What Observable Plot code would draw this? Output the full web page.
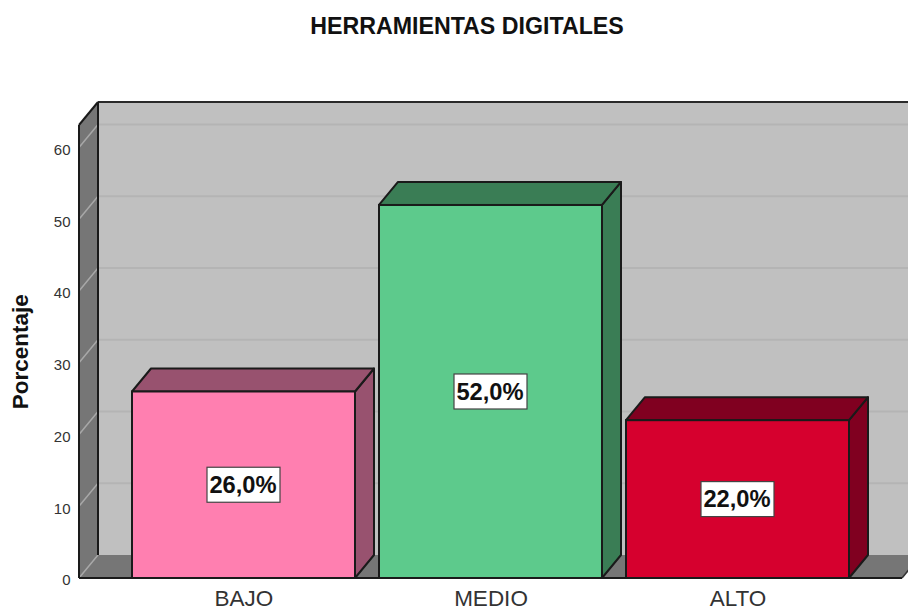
<!DOCTYPE html>
<html>
<head>
<meta charset="utf-8">
<script src="https://cdn.jsdelivr.net/npm/d3@7"></script>
<script src="https://cdn.jsdelivr.net/npm/@observablehq/plot@0.6"></script>
<style>
html,body{margin:0;padding:0;background:#fff;width:908px;height:610px;overflow:hidden}
#title{box-sizing:border-box;width:908px;height:60px;padding-left:26px;text-align:center;font:bold 23.2px/52px "Liberation Sans",sans-serif;color:#111}
svg{display:block}
</style>
</head>
<body>
<div id="title">HERRAMIENTAS DIGITALES</div>
<div id="chart"></div>
<script>
const categories = ["BAJO", "MEDIO", "ALTO"];
const percentages = [26, 52, 22];
const labels = ["26,0%", "52,0%", "22,0%"];
const frontColors = ["#ff7fb0", "#5dca8c", "#d6002e"];
const sideColors = ["#98526f", "#3a7d55", "#800020"];
const yTicks = [0, 10, 20, 30, 40, 50, 60];
const yMax = 63.15;
const depthX = 19, depthY = -23;

const rows = categories.map((c, i) => ({category: c, value: percentages[i], label: labels[i], fill: frontColors[i]}));

function poly(parent, pts, fill, stroke, width) {
  parent.append("polygon")
    .attr("points", pts.map(p => p.join(",")).join(" "))
    .attr("fill", fill).attr("stroke", stroke || "none").attr("stroke-width", width || 0)
    .attr("stroke-linejoin", "round");
}
function seg(parent, a, b, stroke, width) {
  parent.append("line").attr("x1", a[0]).attr("y1", a[1]).attr("x2", b[0]).attr("y2", b[1])
    .attr("stroke", stroke).attr("stroke-width", width);
}

function walls(index, {y}, values, {width, marginLeft, marginRight}) {
  const g = d3.create("svg:g");
  const l = marginLeft, r = width - marginRight, y0 = y(0), yt = y(yMax);
  const bx = l + depthX;
  poly(g, [[bx, yt + depthY], [width + 30, yt + depthY], [width + 30, y0 + depthY], [bx, y0 + depthY]], "#c0c0c0");
  poly(g, [[l, yt], [bx, yt + depthY], [bx, y0 + depthY], [l, y0]], "#767676");
  poly(g, [[l, y0], [bx, y0 + depthY], [r + depthX, y0 + depthY], [r, y0]], "#767676");
  for (const t of yTicks) {
    if (t > 0) seg(g, [bx, y(t) + depthY], [width + 30, y(t) + depthY], "#b4b4b4", 2);
    seg(g, [l, y(t)], [bx, y(t) + depthY], "#a8a8a8", 1.5);
  }
  seg(g, [bx, yt + depthY], [width + 30, yt + depthY], "#2a2a2a", 2);
  seg(g, [bx, yt + depthY], [bx, y0 + depthY], "#1a1a1a", 2);
  seg(g, [l, yt], [bx, yt + depthY], "#1a1a1a", 2);
  seg(g, [l, yt], [l, y0], "#1a1a1a", 2);
  seg(g, [l, y0], [r, y0], "#1a1a1a", 2);
  seg(g, [r, y0], [r + depthX, y0 + depthY], "#333", 1.5);
  return g.node();
}

function barDepth(index, {x, y}) {
  const g = d3.create("svg:g");
  const bw = x.bandwidth();
  rows.forEach((d, i) => {
    const x0 = x(d.category), x1 = x0 + bw, yv = y(d.value), y0 = y(0);
    poly(g, [[x1, yv], [x1 + depthX, yv + depthY], [x1 + depthX, y0 + depthY], [x1, y0]], sideColors[i], "#1a1a1a", 2);
    poly(g, [[x0, yv], [x0 + depthX, yv + depthY], [x1 + depthX, yv + depthY], [x1, yv]], sideColors[i], "#1a1a1a", 2);
  });
  return g.node();
}

function labelBoxes(index, {x, y}) {
  const g = d3.create("svg:g");
  const bw = x.bandwidth();
  rows.forEach(d => {
    const cx = x(d.category) + bw / 2, cy = (y(d.value) + y(0)) / 2;
    g.append("rect").attr("x", cx - 36.5).attr("y", cy - 17.5).attr("width", 73).attr("height", 35)
      .attr("fill", "#fff").attr("stroke", "#444").attr("stroke-width", 1.2);
  });
  return g.node();
}

const plot = Plot.plot({
  width: 908,
  height: 550,
  marginTop: 65,
  marginBottom: 32,
  marginLeft: 79,
  marginRight: 6,
  style: {fontFamily: "'Liberation Sans', sans-serif", overflow: "hidden", background: "#fff"},
  x: {domain: categories, range: [120, 861], paddingInner: 0.097, paddingOuter: 0.0485, label: null},
  y: {domain: [0, yMax], label: null},
  marks: [
    walls,
    barDepth,
    Plot.barY(rows, {x: "category", y: "value", fill: "fill", stroke: "#1a1a1a", strokeWidth: 2}),
    labelBoxes,
    Plot.text(rows, {
      x: "category", y: d => d.value / 2, text: "label", dx: -1,
      fontSize: 23.7, fontWeight: "bold", fill: "#111"
    }),
    Plot.axisX({anchor: "bottom", tickSize: 0, tickPadding: 12, fontSize: 22.5, fill: "#333", label: null, fontWeight: "normal"}),
    Plot.axisY({anchor: "left", ticks: yTicks, tickSize: 0, tickPadding: 9, fontSize: 15, fill: "#333", dy: 2, label: null, tickFormat: d => String(d)}),
    Plot.text(["Porcentaje"], {
      frameAnchor: "left", textAnchor: "middle", y: () => 31.6, dx: -59, rotate: -90,
      fontSize: 22.5, fontWeight: "bold", fill: "#111"
    })
  ]
});
document.getElementById("chart").appendChild(plot);
</script>
</body>
</html>
